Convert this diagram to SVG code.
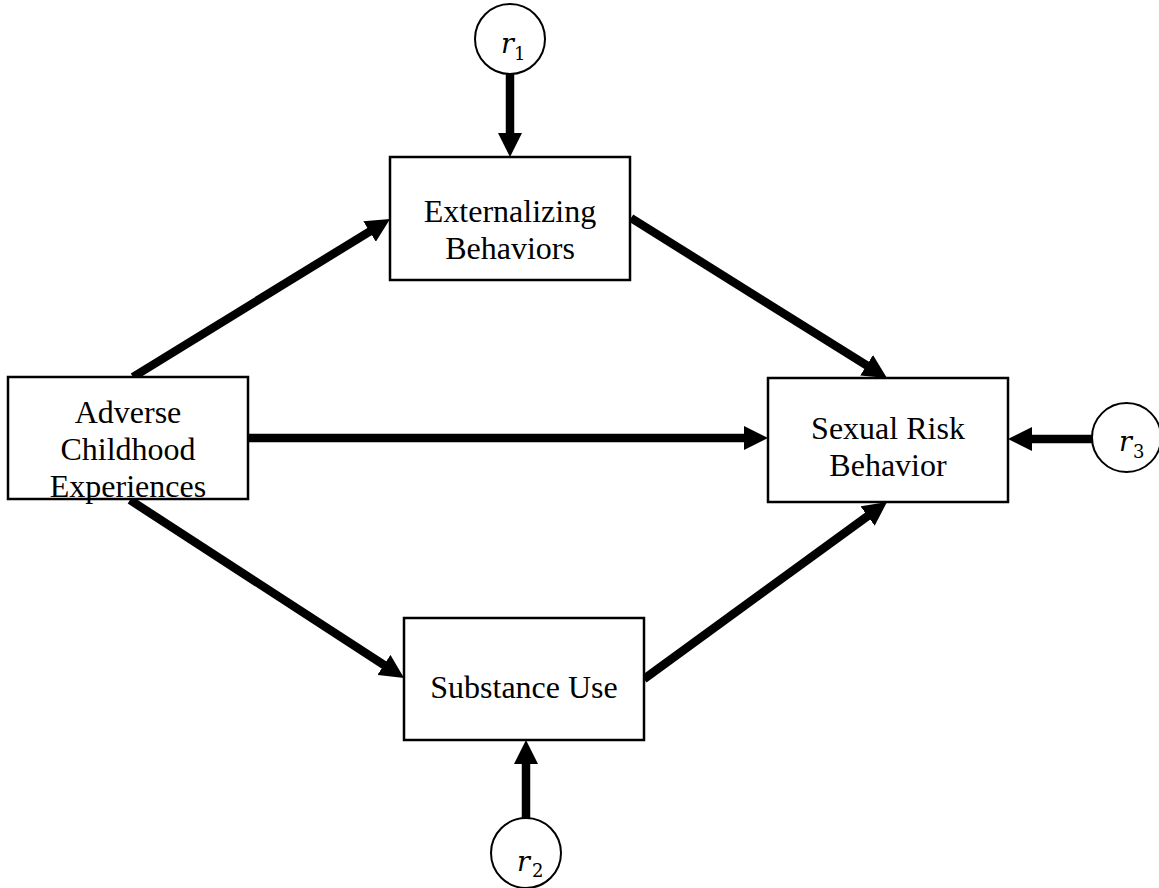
<svg xmlns="http://www.w3.org/2000/svg" width="1159" height="888" viewBox="0 0 1159 888">
<style>
.box{fill:#fff;stroke:#000;stroke-width:2.5}
.circ{fill:#fff;stroke:#000;stroke-width:2}
.lbl{font-family:"Liberation Serif","Times New Roman",serif;font-size:32px;fill:#000;text-anchor:middle}
.rv{font-family:"DejaVu Serif","Liberation Serif",serif;font-style:italic;font-size:27px;fill:#000}
.sub{font-family:"DejaVu Serif","Liberation Serif",serif;font-size:18px;fill:#000}
.edge{stroke:#000;stroke-width:8.5;fill:none;marker-end:url(#ah)}
</style>
<defs>
<marker id="ah" markerUnits="userSpaceOnUse" markerWidth="24" markerHeight="24" viewBox="0 0 24 24" refX="10" refY="12" orient="auto">
<path d="M0,0 L24,12 L0,24 z" fill="#000"/>
</marker>
</defs>
<rect width="1159" height="888" fill="#fff"/>
<g id="connectors">
<line class="edge" x1="133" y1="377" x2="378.1" y2="226.3"/>
<line class="edge" x1="631" y1="218" x2="875.1" y2="370.6"/>
<line class="edge" x1="248" y1="438" x2="754" y2="438"/>
<line class="edge" x1="130" y1="500" x2="392.3" y2="670.4"/>
<line class="edge" x1="644" y1="679" x2="875.7" y2="510.2"/>
<line class="edge" x1="510" y1="73" x2="510" y2="143"/>
<line class="edge" x1="526" y1="818" x2="526" y2="754"/>
<line class="edge" x1="1092" y1="439" x2="1022" y2="439"/>
</g>
<g id="externalizing">
<rect class="box" x="390" y="157" width="240" height="123"/>
<text class="lbl" x="510" y="222">Externalizing</text>
<text class="lbl" x="510" y="258.5">Behaviors</text>
</g>
<g id="adverse">
<rect class="box" x="8" y="377" width="240" height="122"/>
<text class="lbl" x="128" y="422.5">Adverse</text>
<text class="lbl" x="128" y="459.5">Childhood</text>
<text class="lbl" x="128" y="496.5">Experiences</text>
</g>
<g id="sexual">
<rect class="box" x="768" y="378" width="240" height="124"/>
<text class="lbl" x="888" y="439">Sexual Risk</text>
<text class="lbl" x="888" y="476">Behavior</text>
</g>
<g id="substance">
<rect class="box" x="404" y="618" width="240" height="122"/>
<text class="lbl" x="524" y="698">Substance Use</text>
</g>
<g id="r1">
<circle class="circ" cx="510" cy="39" r="35"/>
<text class="rv" x="501" y="53">r</text>
<text class="sub" x="514" y="60">1</text>
</g>
<g id="r2">
<circle class="circ" cx="526" cy="853" r="35"/>
<text class="rv" x="517" y="871">r</text>
<text class="sub" x="532" y="877">2</text>
</g>
<g id="r3">
<circle class="circ" cx="1126.5" cy="437.5" r="34.5"/>
<text class="rv" x="1119" y="451">r</text>
<text class="sub" x="1133" y="458">3</text>
</g>
</svg>
